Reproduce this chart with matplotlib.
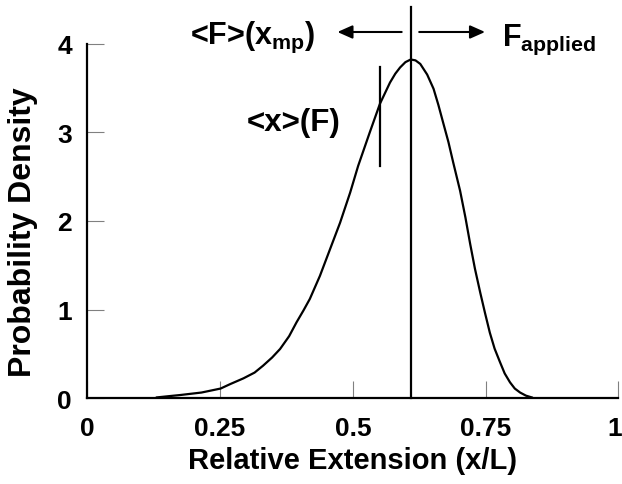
import matplotlib
matplotlib.use("Agg")
import matplotlib.pyplot as plt
from matplotlib.transforms import ScaledTranslation

# curve
extension = [0.131, 0.155, 0.175, 0.215, 0.251, 0.269, 0.294, 0.315, 0.331, 0.348,
             0.363, 0.380, 0.394, 0.407, 0.419, 0.438, 0.457, 0.476, 0.495, 0.510,
             0.532, 0.551, 0.570, 0.580, 0.589, 0.599, 0.609, 0.618, 0.627, 0.640,
             0.652, 0.661, 0.670, 0.680, 0.689, 0.702, 0.712, 0.721, 0.730, 0.740,
             0.749, 0.758, 0.767, 0.777, 0.786, 0.796, 0.805, 0.815, 0.826, 0.837]
density = [0.01, 0.025, 0.037, 0.065, 0.11, 0.16, 0.225, 0.29, 0.368, 0.46,
           0.556, 0.70, 0.857, 0.99, 1.12, 1.38, 1.68, 1.98, 2.32, 2.62,
           3.00, 3.32, 3.56, 3.66, 3.73, 3.79, 3.82, 3.81, 3.77, 3.65,
           3.49, 3.31, 3.11, 2.89, 2.66, 2.34, 2.04, 1.74, 1.46, 1.19,
           0.96, 0.74, 0.56, 0.41, 0.28, 0.18, 0.11, 0.065, 0.03, 0.01]

x_applied = 0.609
x_mean = 0.551
mean_span = [2.62, 3.73]

xticks = [0, 0.25, 0.5, 0.75, 1]
xticklabels = ["0", "0.25", "0.5", "0.75", "1"]
yticks = [0, 1, 2, 3, 4]

plt.rcParams['font.family'] = ['Liberation Sans', 'DejaVu Sans']
plt.rcParams['font.weight'] = 'bold'
plt.rcParams['mathtext.fontset'] = 'custom'
plt.rcParams['mathtext.rm'] = 'Liberation Sans:bold'
plt.rcParams['mathtext.default'] = 'rm'

fig = plt.figure(figsize=(6.22, 4.85), dpi=100)
ax = fig.add_axes([0.1404, 0.1767, 0.8537, 0.7315])

ax.plot(extension, density, color='black', lw=1.6, solid_joinstyle='round')
ax.plot([x_applied, x_applied], [0, 4.41], color='black', lw=1.6, clip_on=False)
ax.plot([x_mean, x_mean], mean_span, color='black', lw=1.6)

ax.set_xlim(0, 1)
ax.set_ylim(0, 4)
ax.set_xticks(xticks)
ax.set_xticklabels(xticklabels)
ax.set_yticks(yticks)

for s in ['top', 'right']:
    ax.spines[s].set_visible(False)
for s in ['left', 'bottom']:
    ax.spines[s].set_linewidth(1.6)
    ax.spines[s].set_color('black')

ax.tick_params(axis='both', direction='in', length=12, width=0.8, color='#808080',
               labelsize=19)
ax.tick_params(axis='x', pad=13)
ax.tick_params(axis='y', pad=11)

# last label sits on the figure edge, nudge it in a little
last = ax.get_xticklabels()[-1]
last.set_transform(last.get_transform() + ScaledTranslation(-4 / 100, 0, fig.dpi_scale_trans))

ax.set_xlabel("Relative Extension (x/L)", fontsize=21, fontweight='bold', labelpad=4)
ax.set_ylabel("Probability Density", fontsize=23, fontweight='bold')
ax.yaxis.set_label_coords(-0.093, 0.47)

ax.text(0.194, 4.01, r"<F>(x$_{mp}$)", fontsize=22, fontweight='bold',
        ha='left', va='baseline')
ax.text(0.780, 3.98, r"F$_{applied}$", fontsize=22, fontweight='bold',
        ha='left', va='baseline')
ax.text(0.300, 3.02, "<x>(F)", fontsize=22.5, fontweight='bold',
        ha='left', va='baseline')

arrow = dict(arrowstyle='-|>,head_length=0.45,head_width=0.2', color='black',
             lw=1.5, shrinkA=0, shrinkB=0, mutation_scale=20)
ax.annotate('', xy=(0.471, 4.13), xytext=(0.592, 4.13), arrowprops=arrow,
            annotation_clip=False)
ax.annotate('', xy=(0.749, 4.13), xytext=(0.625, 4.13), arrowprops=arrow,
            annotation_clip=False)

plt.savefig("out.png", dpi=100)
